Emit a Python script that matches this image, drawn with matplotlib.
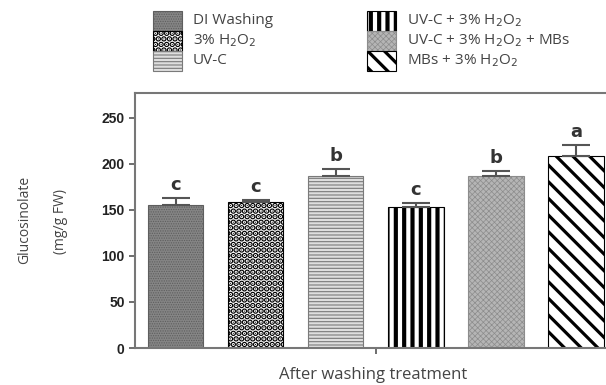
import numpy as np
import matplotlib.pyplot as plt
from matplotlib.patches import Rectangle

labels = ['DI Washing', '3% H$_2$O$_2$', 'UV-C', 'UV-C + 3% H$_2$O$_2$',
          'UV-C + 3% H$_2$O$_2$ + MBs', 'MBs + 3% H$_2$O$_2$']
values = [155, 159, 187, 153, 187, 209]
errors = [8, 2, 7, 4, 5, 11]
letters = ['c', 'c', 'b', 'c', 'b', 'a']

faces = ['#858585', 'white', '#dedede', 'white', '#b5b5b5', 'white']
hcols = ['#5e5e5e', 'black', '#7a7a7a', 'black', '#8c8c8c', 'black']
hatches = ['.......', '...', '-----', '||', 'xxxxxx', '\\\\']
hlw = [0.6, 3.0, 0.8, 3.0, 0.5, 2.3]

fig = plt.figure(figsize=(6.06, 3.85), dpi=100)
ax = fig.add_axes([135 / 606, 37 / 385, 1 - 135 / 606, 255 / 385])

x = np.arange(len(values))
for i in range(len(values)):
    plt.rcParams['hatch.linewidth'] = hlw[i]
    ax.bar(x[i], values[i], 0.69, color=faces[i], edgecolor=hcols[i],
           hatch=hatches[i], linewidth=0.8, zorder=2)

ax.errorbar(x, values, yerr=[np.zeros(len(errors)), errors], fmt='none',
            ecolor='#555555', elinewidth=1.5, capsize=10, capthick=1.5, zorder=3)

for i in range(len(values)):
    ax.annotate(letters[i], (x[i], values[i] + errors[i]), xytext=(0, 3),
                textcoords='offset points', ha='center', va='bottom',
                fontsize=13, fontweight='bold', color='#333333')

ax.set_xlim(-0.51, 5.375)
ax.set_ylim(0, 277)
ax.set_yticks([0, 50, 100, 150, 200, 250])
ax.set_xticks([2.5])
ax.set_xticklabels([''])
ax.tick_params(axis='y', labelsize=10, colors='#555555', labelcolor='#222222',
               width=1.2, length=4)
ax.tick_params(axis='x', colors='#555555', width=1.2, length=4)
for lab in ax.get_yticklabels():
    lab.set_fontweight('bold')
    lab.set_family('Liberation Sans')
for s in ['left', 'top', 'bottom']:
    ax.spines[s].set_color('#777777')
    ax.spines[s].set_linewidth(1.5)
ax.spines['right'].set_visible(False)

fig.text(25 / 606, 1 - 220 / 385, 'Glucosinolate', rotation=90, ha='center',
         va='center', fontsize=10, color='#444444', family='Open Sans')
fig.text(61 / 606, 1 - 221 / 385, '(mg/g FW)', rotation=90, ha='center',
         va='center', fontsize=10, color='#444444', family='Open Sans')
fig.text(373 / 606, 1 - 375 / 385, 'After washing treatment', ha='center',
         va='center', fontsize=12, color='#444444', family='Open Sans')

# legend drawn by hand in figure pixel units (two columns, stacked swatches)
lax = fig.add_axes([0, 0, 1, 1], zorder=-1)
lax.set_xlim(0, 606)
lax.set_ylim(385, 0)
lax.axis('off')
col_x = [153, 367]
for i in range(len(labels)):
    c, r = divmod(i, 3)
    y0 = 11 + 20 * r
    plt.rcParams['hatch.linewidth'] = hlw[i]
    lax.add_patch(Rectangle((col_x[c], y0), 29, 20, facecolor=faces[i],
                            edgecolor=hcols[i], hatch=hatches[i], linewidth=0.8))
    lax.text(col_x[c] + 40, y0 + 10, labels[i], ha='left', va='center',
             fontsize=11, color='#444444', family='Open Sans')

plt.savefig('out.png', dpi=100)
